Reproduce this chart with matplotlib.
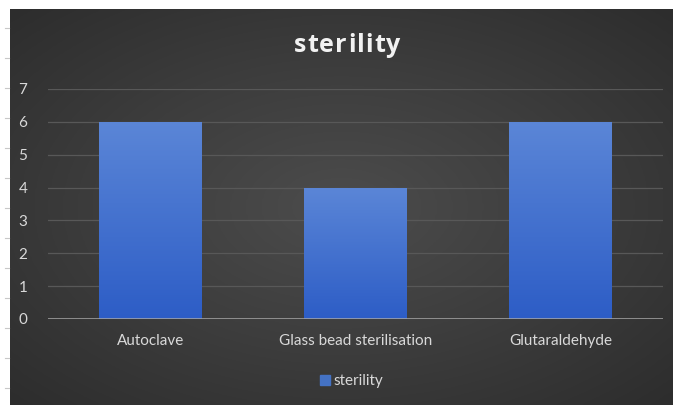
import numpy as np
import matplotlib
matplotlib.use("Agg")
import matplotlib.pyplot as plt
from matplotlib.colors import LinearSegmentedColormap
from matplotlib.lines import Line2D

categories = ["Autoclave", "Glass bead sterilisation", "Glutaraldehyde"]
sterility = [6, 4, 6]
y_ticks = [0, 1, 2, 3, 4, 5, 6, 7]
series_name = "sterility"
chart_title = "sterility"

W, H = 673, 405
fig = plt.figure(figsize=(W / 100, H / 100), dpi=100, facecolor="white")

# Dark chart area with a soft radial gradient
bg = fig.add_axes([10 / W, 0, (W - 10) / W, (H - 9) / H])
bg.set_axis_off()
gx, gy = np.meshgrid(np.linspace(-1, 1, 400), np.linspace(-1, 1, 240))
r = np.clip(np.sqrt(gx ** 2 + gy ** 2) / np.sqrt(2), 0, 1)
bg_cmap = LinearSegmentedColormap.from_list("bg", ["#4c4c4c", "#3d3d3d", "#2d2d2d"])
bg.imshow(r, cmap=bg_cmap, aspect="auto", extent=[0, 1, 0, 1], interpolation="bicubic")
bg.set_xlim(0, 1)
bg.set_ylim(0, 1)

# Row markers in the white margin on the left
for yp in range(28, 400, 30):
    fig.add_artist(Line2D([5 / W, 9 / W], [1 - yp / H, 1 - yp / H],
                          transform=fig.transFigure, color="#c8c8c8", lw=0.8))

ax = fig.add_axes([48 / W, (H - 319) / H, (663 - 48) / W, (319 - 89) / H])
ax.set_facecolor("none")
x = np.arange(len(categories))
bars = ax.bar(x, sterility, width=0.5, color="#4472c4", zorder=3, label=series_name)

# Vertical gradient fill inside each bar
bar_cmap = LinearSegmentedColormap.from_list("bar", ["#2d5dc6", "#5b86d7"])
grad = np.linspace(0, 1, 256).reshape(-1, 1)
for b in bars:
    x0, y0 = b.get_x(), b.get_y()
    im = ax.imshow(grad, cmap=bar_cmap, aspect="auto", origin="lower",
                   extent=[x0, x0 + b.get_width(), y0, y0 + b.get_height()], zorder=4)
    im.set_clip_path(b)

ax.set_xlim(-0.5, len(categories) - 0.5)
ax.set_ylim(0, 7)
ax.set_yticks(y_ticks)
for t in y_ticks[1:]:
    ax.axhline(t, color="#585858", lw=0.9, zorder=1)
ax.axhline(0, color="#a8a8a8", lw=1.8, zorder=5)

for s in ax.spines.values():
    s.set_visible(False)
ax.set_xticks(x)
ax.set_xticklabels(categories)
ax.tick_params(axis="both", length=0, colors="#d9d9d9", labelsize=11)
ax.tick_params(axis="y", pad=15)
ax.tick_params(axis="x", pad=11)
for lbl in ax.get_xticklabels() + ax.get_yticklabels():
    lbl.set_fontfamily("Lato")

# Title drawn letter by letter with slight extra tracking
renderer = fig.canvas.get_renderer()
title_kw = dict(fontsize=18, fontweight="bold", color="#f2f2f2", family="Open Sans", va="center")
tracking = 1.2  # px between letters
widths = []
for ch in chart_title:
    t = fig.text(0, 0, ch, **title_kw)
    widths.append(t.get_window_extent(renderer).width)
    t.remove()
total = sum(widths) + tracking * (len(chart_title) - 1)
cx = 347 - total / 2
for ch, w in zip(chart_title, widths):
    fig.text(cx / W, 1 - 45 / H, ch, ha="left", **title_kw)
    cx += w + tracking

handle = Line2D([], [], marker="s", linestyle="none", markersize=7,
                markerfacecolor="#4472c4", markeredgecolor="#4472c4")
leg = fig.legend([handle], [series_name], loc="center", bbox_to_anchor=(351 / W, 1 - 381 / H),
                 frameon=False, handletextpad=0.1, handlelength=0.8,
                 prop={"family": "Lato", "size": 11})
for t in leg.get_texts():
    t.set_color("#d9d9d9")

fig.savefig("out.png", dpi=100, facecolor="white")
